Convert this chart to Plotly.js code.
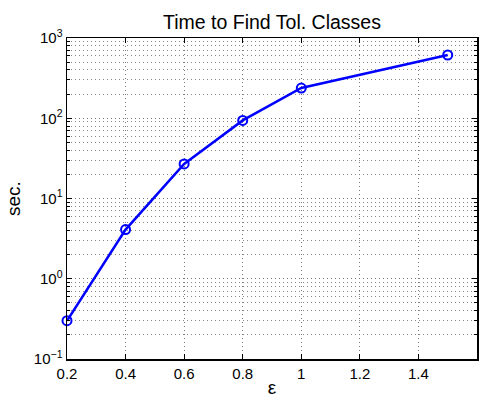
<!DOCTYPE html>
<html>
<head>
<meta charset="utf-8">
<script src="https://cdn.plot.ly/plotly-3.0.1.min.js"></script>
<style>
  html, body { margin: 0; padding: 0; background: #fff; }
  #chart { width: 487px; height: 398px; }
</style>
</head>
<body>
<div id="chart"></div>
<script>
// Tolerance epsilon and the time (seconds) needed to find tolerance classes
const epsilon = [0.2, 0.4, 0.6, 0.8, 1.0, 1.5];
const seconds = [0.3, 4.1, 27, 94, 238, 614];

const xTicks = [0.2, 0.4, 0.6, 0.8, 1, 1.2, 1.4, 1.6];
const yTicks = [0.1, 1, 10, 100, 1000];
const yTickText = ['10<sup>−1</sup>', '10<sup>0</sup>', '10<sup>1</sup>', '10<sup>2</sup>', '10<sup>3</sup>'];

const font = { family: 'Liberation Sans, Arial, sans-serif', color: '#000' };
const gridDash = '1px,3px';

const trace = {
  x: epsilon,
  y: seconds,
  type: 'scatter',
  mode: 'lines+markers',
  cliponaxis: false,
  line: { color: '#0000ff', width: 2.5 },
  marker: { symbol: 'circle-open', size: 9, color: '#0000ff', line: { width: 2, color: '#0000ff' } },
  hoverinfo: 'skip'
};

const axisCommon = {
  showline: true,
  linecolor: '#000',
  linewidth: 1.5,
  mirror: 'allticks',
  ticks: 'inside',
  ticklen: 5,
  tickcolor: '#000',
  showgrid: true,
  gridcolor: '#777',
  griddash: gridDash,
  gridwidth: 1,
  zeroline: false,
  tickfont: Object.assign({ size: 15 }, font)
};

const layout = {
  width: 487,
  height: 398,
  margin: { l: 67, r: 10, t: 38, b: 39 },
  paper_bgcolor: '#fff',
  plot_bgcolor: '#fff',
  showlegend: false,
  title: {
    text: 'Time to Find Tol. Classes',
    font: Object.assign({ size: 19.5 }, font),
    x: 0.5, xref: 'paper', xanchor: 'center',
    y: 1, yref: 'paper', yanchor: 'bottom', pad: { b: 9 }
  },
  xaxis: Object.assign({}, axisCommon, {
    range: [0.2, 1.6],
    tickvals: xTicks,
    ticktext: xTicks.map(String),
    title: { text: 'ε', font: Object.assign({ size: 19 }, font), standoff: 1 }
  }),
  yaxis: Object.assign({}, axisCommon, {
    type: 'log',
    range: [-1, 3],
    tickvals: yTicks,
    ticktext: yTickText,
    minor: {
      dtick: 'D1',
      ticks: 'inside',
      ticklen: 3,
      tickcolor: '#000',
      showgrid: true,
      gridcolor: '#888',
      griddash: gridDash,
      gridwidth: 1
    },
    title: { text: 'sec.', font: Object.assign({ size: 19 }, font), standoff: 8 }
  })
};

Plotly.newPlot('chart', [trace], layout, { staticPlot: true, displayModeBar: false });
</script>
</body>
</html>
